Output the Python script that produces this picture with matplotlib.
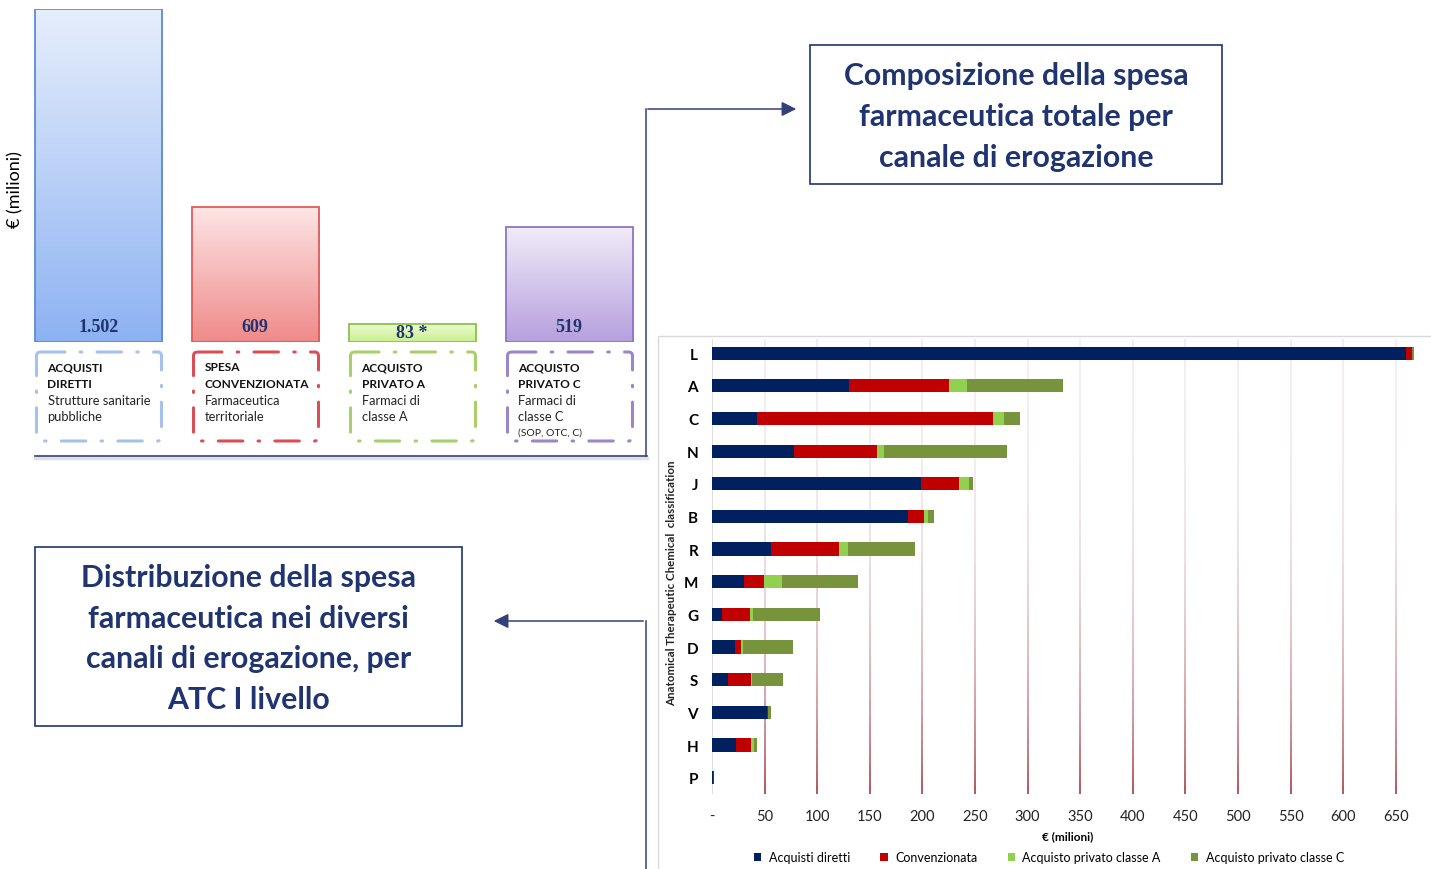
import numpy as np
import matplotlib.pyplot as plt
from matplotlib.patches import Rectangle, FancyBboxPatch
from matplotlib.collections import LineCollection
from matplotlib.colors import LinearSegmentedColormap, to_rgba

plt.rcParams['font.family'] = ['Lato', 'DejaVu Sans']

W, H = 1431, 870

# --- left panel: total spend by channel (€ millions)
spesa_tot = [1502, 609, 83, 519]
etichette_tot = ['1.502', '609', '83 *', '519']
box_titoli = [['ACQUISTI', 'DIRETTI'], ['SPESA', 'CONVENZIONATA'],
              ['ACQUISTO', 'PRIVATO A'], ['ACQUISTO', 'PRIVATO C']]
box_desc = [['Strutture sanitarie', 'pubbliche'], ['Farmaceutica', 'territoriale'],
            ['Farmaci di', 'classe A'], ['Farmaci di', 'classe C', '(SOP, OTC, C)']]

# --- right panel: spend by ATC level I and channel
atc = ['L', 'A', 'C', 'N', 'J', 'B', 'R', 'M', 'G', 'D', 'S', 'V', 'H', 'P']
diretti = [660, 130, 42.8, 78, 198.7, 186.6, 56.4, 30.7, 9.5, 21.5, 14.9, 52, 22.8, 1.3]
convenz = [5, 95, 224, 79, 36, 15.2, 64, 19, 26.3, 6.1, 22.5, 1.2, 14.2, 0.4]
priv_a = [0.5, 17.5, 10.5, 6.7, 9.2, 3.8, 8.9, 16.5, 2.9, 2.2, 0.6, 0.3, 2.6, 0]
priv_c = [1.5, 91, 15.5, 116.6, 4, 5.7, 63.7, 72.8, 64, 47.5, 29.2, 2.5, 3.2, 0]
serie_nomi = ['Acquisti diretti', 'Convenzionata',
              'Acquisto privato classe A', 'Acquisto privato classe C']
xticks = list(range(0, 651, 50))
xtick_lab = ['-'] + [str(v) for v in xticks[1:]]

NAVY = '#1f3470'

fig = plt.figure(figsize=(W / 100, H / 100), dpi=100)


def px_axes(x0, y0, x1, y1):
    # pixel box measured from the top-left corner
    return fig.add_axes([x0 / W, 1 - y1 / H, (x1 - x0) / W, (y1 - y0) / H])


ov = px_axes(0, 0, W, H)
ov.set_xlim(0, W)
ov.set_ylim(H, 0)
ov.axis('off')

# ---------------- left bars with gradient fill
axl = px_axes(20, 10, 647.5, 343)
grad_cols = [('#8db2f2', '#e6eefc', '#5b8bd8'),
             ('#f08a8a', '#fde6e6', '#e05a5a'),
             ('#c9ef8c', '#eefbd6', '#8cc24a'),
             ('#b5a0de', '#f1ecf9', '#8e74c6')]
grad = np.linspace(0, 1, 256).reshape(-1, 1)
bars = axl.bar(range(4), spesa_tot, width=0.81, facecolor='none', linewidth=1.3)
for i, b in enumerate(bars):
    bot, top, edge = grad_cols[i]
    cmap = LinearSegmentedColormap.from_list('g%d' % i, [bot, top])
    x0 = b.get_x()
    im = axl.imshow(grad, extent=[x0, x0 + b.get_width(), 0, b.get_height()],
                    origin='lower', cmap=cmap, aspect='auto', zorder=1)
    im.set_clip_path(b)
    b.set_edgecolor(edge)
    b.set_zorder(2)
    axl.text(i, min(68, spesa_tot[i] / 2), etichette_tot[i], ha='center', va='center',
             family='Liberation Serif', fontweight='bold', fontsize=13, color=NAVY, zorder=3)
axl.set_xlim(-0.5, 3.5)
axl.set_ylim(0, 1502)
axl.axis('off')

ov.text(15, 190, '€ (milioni)', rotation=90, ha='center', va='center', fontsize=13)

# dashed description boxes
box_edges = ['#a6c2ec', '#d94f55', '#a9cf6a', '#9c86c9']
for i in range(4):
    cx = 20 + (i + 0.5) * 157
    bx = FancyBboxPatch((cx - 62, 353), 125, 89, boxstyle='round,pad=0,rounding_size=4',
                        facecolor='white', edgecolor=box_edges[i], linewidth=2.2,
                        linestyle=(0, (8, 5, 0.5, 5)), capstyle='round')
    bx.set_joinstyle('round')
    ov.add_patch(bx)
    tx = cx - 51
    y = 368
    for t in box_titoli[i]:
        ov.text(tx, y, t, fontsize=8.6, fontweight='bold', va='center', color='#111111')
        y += 16.5
    for t in box_desc[i]:
        small = t.startswith('(')
        ov.text(tx, y - (1 if small else 0), t, fontsize=7.5 if small else 9.3,
                va='center', color='#222222')
        y += 16.5

# panel bottom edge + connectors
ov.plot([35, 647], [459, 459], color='#cccccc', lw=2.5, alpha=0.6)
ov.plot([35, 647], [457, 457], color='#34407a', lw=1.2)
ov.plot([645.5, 645.5], [110, 457], color='#34407a', lw=1.1)
ov.annotate('', xy=(799, 110), xytext=(645, 110),
            arrowprops=dict(arrowstyle='-|>', color='#34407a', lw=1.1, mutation_scale=22))
ov.plot([645.5, 645.5], [622, 870], color='#34407a', lw=1.1)
ov.annotate('', xy=(491, 622), xytext=(646, 622),
            arrowprops=dict(arrowstyle='-|>', color='#34407a', lw=1.1, mutation_scale=22))

# title boxes
ov.add_patch(Rectangle((810, 46), 412, 139, facecolor='white', edgecolor=NAVY, lw=1.2))
ov.text(1016, 117, 'Composizione della spesa\nfarmaceutica totale per\ncanale di erogazione',
        ha='center', va='center', fontsize=21.8, fontweight='bold', color=NAVY, linespacing=1.55)
ov.add_patch(Rectangle((35, 548), 427, 179, facecolor='white', edgecolor=NAVY, lw=1.2))
ov.text(248.5, 639, 'Distribuzione della spesa\nfarmaceutica nei diversi\ncanali di erogazione, per\nATC I livello',
        ha='center', va='center', fontsize=21.8, fontweight='bold', color=NAVY, linespacing=1.55)

# ---------------- right stacked bar chart
ov.add_patch(Rectangle((658, 337), 800, 600, facecolor='white', edgecolor='#d9d9d9', lw=1))
ax = px_axes(712, 340, 1431, 795)
ylim = (13.5, -0.43)

# gradient gridlines (light at top, dark red at bottom)
ys = np.linspace(ylim[1], ylim[0], 60)
c_top = np.array(to_rgba('#f1e9ec'))
c_bot = np.array(to_rgba('#9e2a36'))
for xv in xticks[1:]:
    segs = [[(xv, ys[k]), (xv, ys[k + 1])] for k in range(len(ys) - 1)]
    t = np.linspace(0, 1, len(segs)) ** 3
    cols = c_top + (c_bot - c_top) * t[:, None]
    ax.add_collection(LineCollection(segs, colors=cols, linewidths=1.1, zorder=0))
ax.axvline(0, color='#d9d9d9', lw=1.2, zorder=0)

colori = ['#002060', '#c00000', '#92d050', '#77933c']
y = np.arange(len(atc))
left = np.zeros(len(atc))
handles = []
for vals, col, nome in zip([diretti, convenz, priv_a, priv_c], colori, serie_nomi):
    vals = np.array(vals)
    h = ax.barh(y, vals, left=left, height=0.4, color=col, label=nome, zorder=2)
    handles.append(h)
    left += vals

ax.set_xlim(0, 683.5)
ax.set_ylim(*ylim)
ax.set_yticks(y)
ax.set_yticklabels(atc, fontsize=11, fontweight='bold')
ax.set_xticks(xticks)
ax.set_xticklabels(xtick_lab, fontsize=10.5, color='#222222')
ax.tick_params(axis='y', length=0, pad=10)
ax.tick_params(axis='x', length=0, pad=11)
for s in ax.spines.values():
    s.set_visible(False)
ax.patch.set_alpha(0)

ov.text(1068, 837, '€ (milioni)', ha='center', va='center', fontsize=8.5, fontweight='bold')
ov.text(672, 583, 'Anatomical Therapeutic Chemical  classification', rotation=90,
        ha='center', va='center', fontsize=8.3, fontweight='bold', color='#222222')

ax.legend(handles=handles, loc='center', bbox_to_anchor=(1049 / W, 1 - 858 / H),
          bbox_transform=fig.transFigure, ncol=4, frameon=False, fontsize=9,
          handlelength=0.6, handleheight=0.6, columnspacing=2.4, handletextpad=0.6)

fig.savefig('out.png', dpi=100)
